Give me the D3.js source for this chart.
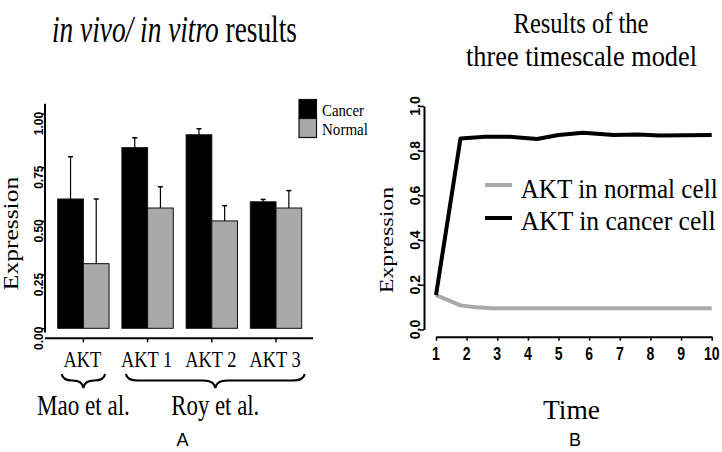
<!DOCTYPE html>
<html><head><meta charset="utf-8">
<script src="https://cdn.jsdelivr.net/npm/d3@7"></script>
<style>body{margin:0;background:#fff}svg{display:block}</style>
</head><body>
<svg id="c" width="722" height="452"></svg>
<script>
// ---------- data ----------
const groups = ["AKT", "AKT 1", "AKT 2", "AKT 3"];
const seriesNames = ["Cancer", "Normal"];
const cancerValues = [0.602, 0.841, 0.901, 0.589];
const cancerErrors = [0.197, 0.046, 0.028, 0.011];
const normalValues = [0.301, 0.560, 0.500, 0.560];
const normalErrors = [0.301, 0.099, 0.071, 0.081];
const barTicks = [0, 0.25, 0.5, 0.75, 1];
const studyLabels = ["Mao et al.", "Roy et al."];
const studyFirst = ["AKT", "AKT 1"];
const studyLast = ["AKT", "AKT 3"];

const cancerTimes = [1, 1.8, 2.6, 3.4, 4.3, 5.0, 5.8, 6.8, 7.6, 8.3, 10];
const cancerLevels = [0.154, 0.855, 0.862, 0.862, 0.852, 0.870, 0.880, 0.870, 0.873, 0.868, 0.870];
const normalTimes = [1, 1.8, 2.3, 2.8, 10];
const normalLevels = [0.154, 0.108, 0.100, 0.095, 0.095];
const timeTicks = [1, 2, 3, 4, 5, 6, 7, 8, 9, 10];
const levelTicks = [0, 0.2, 0.4, 0.6, 0.8, 1.0];
const lineLegend = ["AKT in normal cell", "AKT in cancer cell"];

// ---------- setup ----------
const svg = d3.select("#c");
const SERIF = "'Liberation Serif','Times New Roman',serif";
const SANS = "'Liberation Sans',Arial,sans-serif";
const GRAY = "#a9a9a9";

// serif text squeezed horizontally to a target width (the reference is condensed)
function stext(x, y, str, size, width, anchor) {
  const t = svg.append("text")
    .attr("font-family", SERIF).attr("font-size", size)
    .attr("text-anchor", anchor || "start");
  if (Array.isArray(str)) {
    str.forEach(p => t.append("tspan").attr("font-style", p[1] ? "italic" : null).text(p[0]));
  } else t.text(str);
  const w = t.node().getComputedTextLength();
  const sx = width ? width / w : 1;
  t.attr("transform", `translate(${x},${y}) scale(${sx},1)`);
  return t;
}

// ---------- left panel: bars ----------
const xBand = d3.scaleBand().domain(groups).range([57.7, 301.7]).paddingInner(0.2).paddingOuter(0);
const xSub = d3.scaleBand().domain(seriesNames).range([0, xBand.bandwidth()]);
const yBar = d3.scaleLinear().domain([0, 1]).range([328.3, 113.5]);
const colors = { Cancer: "#000", Normal: GRAY };

const rows = groups.map((g, i) => ({
  g,
  bars: [
    { s: "Cancer", v: cancerValues[i], e: cancerErrors[i] },
    { s: "Normal", v: normalValues[i], e: normalErrors[i] }
  ]
}));

const left = svg.append("g");
const gg = left.selectAll("g.grp").data(rows).join("g")
  .attr("transform", d => `translate(${xBand(d.g)},0)`);
gg.selectAll("rect").data(d => d.bars).join("rect")
  .attr("x", d => xSub(d.s)).attr("width", xSub.bandwidth())
  .attr("y", d => yBar(d.v)).attr("height", d => yBar(0) - yBar(d.v))
  .attr("fill", d => colors[d.s]).attr("stroke", "#111").attr("stroke-width", 1);
const eb = gg.selectAll("g.err").data(d => d.bars).join("g").attr("class", "err")
  .attr("transform", d => `translate(${xSub(d.s) + xSub.bandwidth() / 2},0)`);
eb.append("line").attr("x1", 0).attr("x2", 0)
  .attr("y1", d => yBar(d.v)).attr("y2", d => yBar(d.v + d.e))
  .attr("stroke", "#000").attr("stroke-width", 1.2);
eb.append("line").attr("x1", -2.5).attr("x2", 2.5)
  .attr("y1", d => yBar(d.v + d.e)).attr("y2", d => yBar(d.v + d.e))
  .attr("stroke", "#000").attr("stroke-width", 1.5);

// left y axis
const yAx = left.append("g").attr("transform", "translate(45,0)")
  .call(d3.axisLeft(yBar).tickValues(barTicks).tickSize(4).tickFormat(""));
yAx.select(".domain").remove();
yAx.selectAll("line").attr("stroke", "#000").attr("stroke-width", 1.5);
left.append("line").attr("x1", 45).attr("x2", 45)
  .attr("y1", yBar(1.045)).attr("y2", yBar(-0.02))
  .attr("stroke", "#000").attr("stroke-width", 2);
left.selectAll("text.yt").data(barTicks).join("text")
  .attr("transform", d => `translate(39,${yBar(d) + 10}) rotate(-90)`)
  .attr("text-anchor", "middle").attr("dominant-baseline", "central")
  .attr("font-family", SANS).attr("font-weight", "bold").attr("font-size", 12)
  .text(d3.format(".2f"));

// left x axis
const xAxY = 338.3;
left.append("line").attr("x1", 45).attr("x2", 313).attr("y1", xAxY).attr("y2", xAxY)
  .attr("stroke", "#000").attr("stroke-width", 2);
const xAx = left.append("g").attr("transform", `translate(0,${xAxY})`)
  .call(d3.axisBottom(xBand).tickSize(4).tickFormat(""));
xAx.select(".domain").remove();
xAx.selectAll("line").attr("stroke", "#000").attr("stroke-width", 1.5);
groups.forEach(g => {
  svg.append("text").attr("transform", `translate(${xBand(g) + xBand.bandwidth() / 2 - 1},366.7) scale(0.8,1)`)
    .attr("text-anchor", "middle").attr("font-family", SERIF).attr("font-size", 23).text(g);
});

// braces + study labels
studyLabels.forEach((lab, i) => {
  const x0 = xBand(studyFirst[i]) + 4, x1 = xBand(studyLast[i]) + xBand.bandwidth() + (i ? 3 : -4);
  const xm = (x0 + x1) / 2, top = 374, mid = 380.5, tip = 388;
  const r = Math.min(12, (x1 - x0) / 4);
  const p = d3.path();
  p.moveTo(x0, top);
  p.quadraticCurveTo(x0 + 1, mid, x0 + r, mid);
  p.lineTo(xm - r, mid);
  p.quadraticCurveTo(xm - 1, mid, xm, tip);
  p.quadraticCurveTo(xm + 1, mid, xm + r, mid);
  p.lineTo(x1 - r, mid);
  p.quadraticCurveTo(x1 - 1, mid, x1, top);
  svg.append("path").attr("d", p.toString()).attr("fill", "none")
    .attr("stroke", "#000").attr("stroke-width", 2);
  stext(xm, 415, lab, 28.7, i ? 88 : 93, "middle");
});

// legend (bars)
seriesNames.forEach((s, i) => {
  svg.append("rect").attr("x", 299).attr("y", 99.5 + i * 19).attr("width", 17.5).attr("height", 19)
    .attr("fill", colors[s]).attr("stroke", "#111").attr("stroke-width", 1.2);
  stext(322, 116 + i * 19, s, 16.5, i ? 46 : 42);
});

// left title & y label
stext(52, 42.3, [["in vivo/ in vitro", true], [" results", false]], 38, 245);
svg.append("text").attr("transform", "translate(18,233.5) rotate(-90) scale(1,0.8)")
  .attr("text-anchor", "middle").attr("font-family", SERIF).attr("font-size", 25.5).text("Expression");
svg.append("text").attr("x", 182.5).attr("y", 446).attr("text-anchor", "middle")
  .attr("font-family", SANS).attr("font-size", 18).text("A");

// ---------- right panel: lines ----------
const xT = d3.scaleLinear().domain([1, 10]).range([436, 711.7]);
const yL = d3.scaleLinear().domain([0, 1]).range([329.5, 106]);
const right = svg.append("g");

const ryAx = right.append("g").attr("transform", "translate(424,0)")
  .call(d3.axisLeft(yL).tickValues(levelTicks).tickSize(4).tickSizeOuter(0).tickFormat(""));
ryAx.select(".domain").attr("stroke", "#000").attr("stroke-width", 2);
ryAx.selectAll("line").attr("stroke", "#000").attr("stroke-width", 1.5);
right.selectAll("text.yt").data(levelTicks).join("text")
  .attr("transform", d => `translate(415,${yL(d)}) rotate(-90)`)
  .attr("text-anchor", "middle").attr("dominant-baseline", "central")
  .attr("font-family", SANS).attr("font-weight", "bold").attr("font-size", 14)
  .text(d3.format(".1f"));

const rxAx = right.append("g").attr("transform", "translate(0,336.7)")
  .call(d3.axisBottom(xT).tickValues(timeTicks).tickSize(4).tickSizeOuter(0).tickFormat(""));
rxAx.select(".domain").attr("stroke", "#000").attr("stroke-width", 2);
rxAx.selectAll("line").attr("stroke", "#000").attr("stroke-width", 1.5);
right.selectAll("text.xt").data(timeTicks).join("text")
  .attr("transform", d => `translate(${xT(d)},359.5) scale(0.78,1)`)
  .attr("text-anchor", "middle").attr("font-family", SANS).attr("font-weight", "bold")
  .attr("font-size", 18).text(d => d);

const line = d3.line().x(d => xT(d[0])).y(d => yL(d[1]));
right.append("path").datum(normalTimes.map((t, i) => [t, normalLevels[i]]))
  .attr("d", line).attr("fill", "none").attr("stroke", GRAY).attr("stroke-width", 4)
  .attr("stroke-linejoin", "round");
right.append("path").datum(cancerTimes.map((t, i) => [t, cancerLevels[i]]))
  .attr("d", line).attr("fill", "none").attr("stroke", "#000").attr("stroke-width", 4)
  .attr("stroke-linejoin", "round");

// legend (lines)
[GRAY, "#000"].forEach((c, i) => {
  right.append("line").attr("x1", 485).attr("x2", 512).attr("y1", 185 + i * 33).attr("y2", 185 + i * 33)
    .attr("stroke", c).attr("stroke-width", 4);
  stext(520.7, 198.3 + i * 32, lineLegend[i], 27.5, i ? 195 : 197);
});

// right titles & labels
stext(581, 32.5, "Results of the", 29, 135, "middle");
stext(581.5, 66, "three timescale model", 29, 231, "middle");
svg.append("text").attr("transform", "translate(393,240) rotate(-90) scale(1,0.8)")
  .attr("text-anchor", "middle").attr("font-family", SERIF).attr("font-size", 24).text("Expression");
stext(571.5, 419, "Time", 28, 57, "middle");
svg.append("text").attr("x", 575).attr("y", 446).attr("text-anchor", "middle")
  .attr("font-family", SANS).attr("font-size", 18).text("B");
</script>
</body></html>
